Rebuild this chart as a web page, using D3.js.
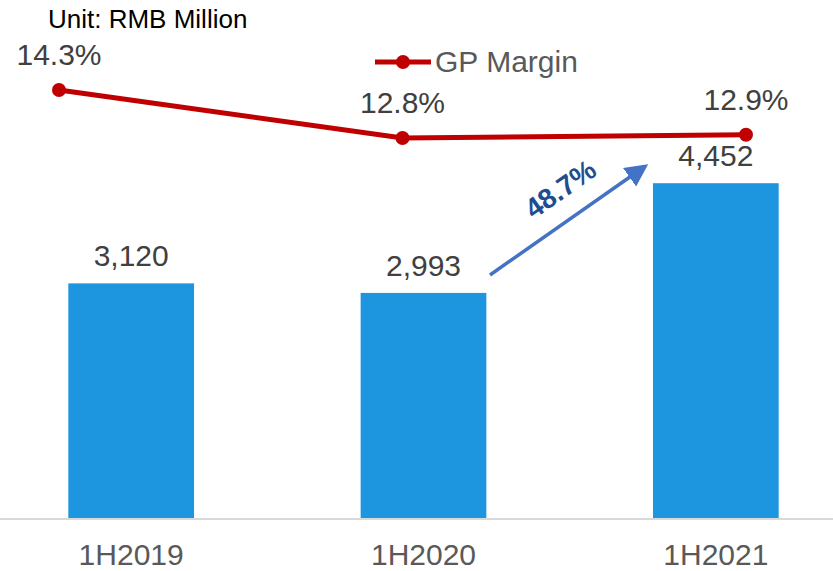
<!DOCTYPE html>
<html>
<head>
<meta charset="utf-8">
<script src="https://cdn.jsdelivr.net/npm/d3@7"></script>
<style>
  body { margin: 0; background: #fff; }
  svg text { font-family: "Liberation Sans", Arial, sans-serif; }
</style>
</head>
<body>
<div id="chart"></div>
<script>
// Données du graphique
const categories = ["1H2019", "1H2020", "1H2021"];
const revenue = [3120, 2993, 4452];
const gpMargin = [14.3, 12.8, 12.9];
const growthLabel = "48.7%";

const width = 833, height = 571;
const baseY = 518;

const svg = d3.select("#chart")
    .append("svg")
    .attr("width", width)
    .attr("height", height);

// Échelles
const x = d3.scaleBand().domain(categories).range([-15, 862]).paddingInner(0.57).paddingOuter(0.285);
const y = d3.scaleLinear().domain([0, 5000]).range([baseY, baseY - 376]);
const xLine = d3.scalePoint().domain(categories).range([59, 746]);
const yLine = d3.scaleLinear().domain([10, 15]).range([90 + 4.3 * 32, 90 - 0.7 * 32]);

// Barres
svg.selectAll(".bar")
    .data(revenue)
    .enter()
    .append("rect")
    .attr("class", "bar")
    .attr("x", (d, i) => x(categories[i]))
    .attr("width", x.bandwidth())
    .attr("y", d => y(d))
    .attr("height", d => baseY - y(d))
    .attr("fill", "#1E96DF");

// Axe horizontal
svg.append("line")
    .attr("x1", 0).attr("x2", width)
    .attr("y1", baseY + 1).attr("y2", baseY + 1)
    .attr("stroke", "#D9D9D9")
    .attr("stroke-width", 2);

svg.selectAll(".cat")
    .data(categories)
    .enter()
    .append("text")
    .attr("x", d => x(d) + x.bandwidth() / 2)
    .attr("y", 565)
    .attr("text-anchor", "middle")
    .attr("font-size", 30)
    .attr("fill", "#595959")
    .text(d => d);

// Étiquettes des barres
svg.selectAll(".barlabel")
    .data(revenue)
    .enter()
    .append("text")
    .attr("x", (d, i) => x(categories[i]) + x.bandwidth() / 2)
    .attr("y", d => y(d) - 17)
    .attr("text-anchor", "middle")
    .attr("font-size", 30)
    .attr("fill", "#404040")
    .text(d => d3.format(",")(d));

// Ligne de marge brute
const line = d3.line()
    .x((d, i) => xLine(categories[i]))
    .y(d => yLine(d));

svg.append("path")
    .datum(gpMargin)
    .attr("d", line)
    .attr("fill", "none")
    .attr("stroke", "#C00000")
    .attr("stroke-width", 5);

svg.selectAll(".dot")
    .data(gpMargin)
    .enter()
    .append("circle")
    .attr("cx", (d, i) => xLine(categories[i]))
    .attr("cy", d => yLine(d))
    .attr("r", 7)
    .attr("fill", "#C00000");

svg.selectAll(".linelabel")
    .data(gpMargin)
    .enter()
    .append("text")
    .attr("x", (d, i) => xLine(categories[i]))
    .attr("y", d => yLine(d) - 25)
    .attr("text-anchor", "middle")
    .attr("font-size", 30)
    .attr("fill", "#404040")
    .text(d => d.toFixed(1) + "%");

// Légende
const legend = svg.append("g").attr("transform", "translate(375,62)");
legend.append("line").attr("x1", 0).attr("x2", 56).attr("y1", 0).attr("y2", 0)
    .attr("stroke", "#C00000").attr("stroke-width", 5);
legend.append("circle").attr("cx", 28).attr("cy", 0).attr("r", 7).attr("fill", "#C00000");
legend.append("text").attr("x", 60).attr("y", 10)
    .attr("font-size", 30).attr("fill", "#595959").text("GP Margin");

// Unité
svg.append("text")
    .attr("x", 48).attr("y", 28)
    .attr("font-size", 26)
    .attr("fill", "#000")
    .text("Unit: RMB Million");

// Flèche de croissance
svg.append("defs").append("marker")
    .attr("id", "arrow")
    .attr("viewBox", "0 0 10 10")
    .attr("refX", 4).attr("refY", 5)
    .attr("markerWidth", 6.5).attr("markerHeight", 6.5)
    .attr("orient", "auto")
    .append("path")
    .attr("d", "M0,0 L10,5 L0,10 z")
    .attr("fill", "#4472C4");

svg.append("line")
    .attr("x1", 490).attr("y1", 275)
    .attr("x2", 637).attr("y2", 172)
    .attr("stroke", "#4472C4")
    .attr("stroke-width", 3.5)
    .attr("marker-end", "url(#arrow)");

svg.append("text")
    .attr("transform", "translate(566,197) rotate(-35)")
    .attr("text-anchor", "middle")
    .attr("font-size", 28)
    .attr("font-weight", "bold")
    .attr("fill", "#1F4E8F")
    .text(growthLabel);
</script>
</body>
</html>
